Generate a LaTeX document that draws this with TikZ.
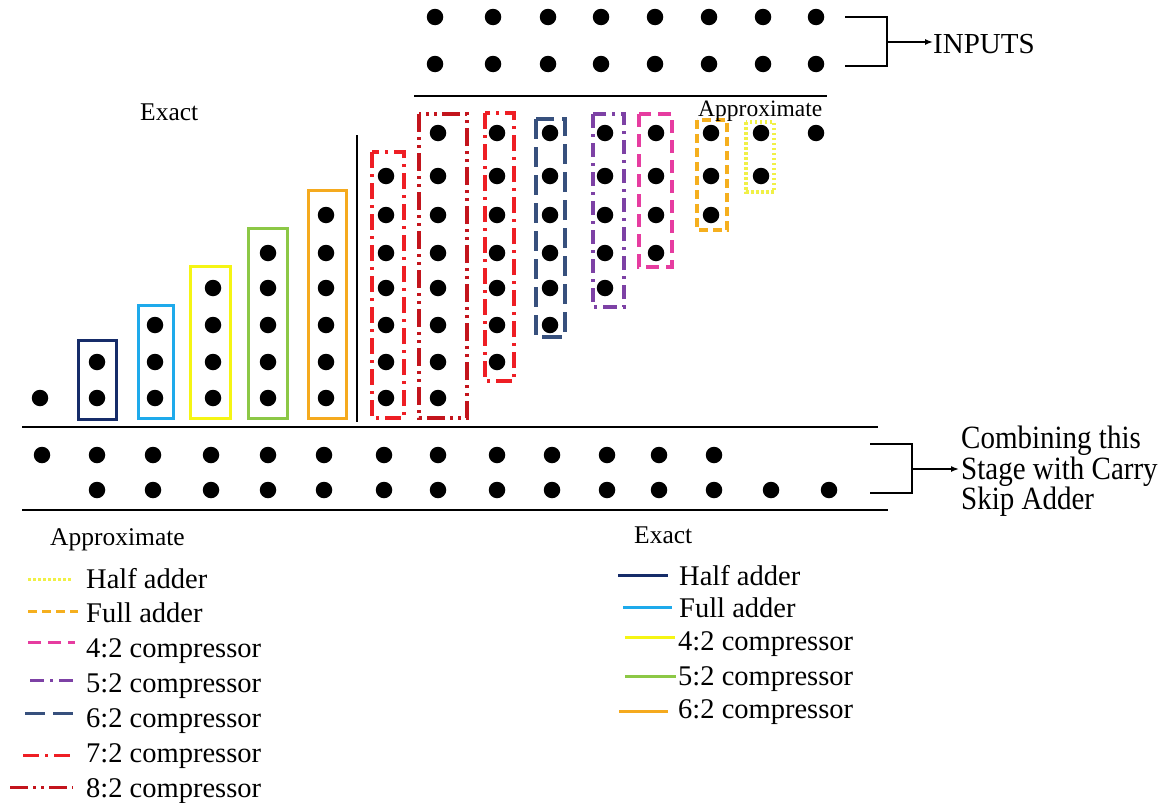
\documentclass[tikz,border=0pt]{standalone}
\usepackage{fontspec}
\setmainfont{Liberation Serif}
\usetikzlibrary{arrows.meta}
\definecolor{exHA}{RGB}{22,44,105}
\definecolor{exFA}{RGB}{30,170,235}
\definecolor{exFT}{RGB}{245,245,20}
\definecolor{exFV}{RGB}{140,200,70}
\definecolor{exSX}{RGB}{245,170,30}
\definecolor{apHA}{RGB}{240,240,70}
\definecolor{apFA}{RGB}{245,175,30}
\definecolor{apFT}{RGB}{230,60,160}
\definecolor{apFV}{RGB}{125,65,165}
\definecolor{apSX}{RGB}{55,80,125}
\definecolor{apSV}{RGB}{238,30,36}
\definecolor{apEG}{RGB}{195,20,28}
\begin{document}
\begin{tikzpicture}[x=1pt,y=-1pt,
  dot/.style={circle,fill=black,inner sep=0pt,minimum size=16.5pt},
  exbox/.style={line width=3pt},
  apbox/.style={line width=3.2pt},
  dashHA/.style={dash pattern=on 2.5pt off 2.5pt},
  dashFA/.style={dash pattern=on 9pt off 5pt},
  dashFT/.style={dash pattern=on 13pt off 7pt},
  dashFV/.style={dash pattern=on 14pt off 6pt on 3pt off 6pt},
  dashSX/.style={dash pattern=on 20pt off 8pt},
  dashSV/.style={dash pattern=on 16pt off 6pt on 3pt off 6pt},
  dashEG/.style={dash pattern=on 18pt off 5pt on 3pt off 5pt on 3pt off 5pt},
  rule/.style={line width=2.5pt},
  brk/.style={line width=1.5pt},
  arr/.style={brk,-{Latex[length=8pt,width=6pt]}},
  big/.style={font=\fontsize{29}{27}\selectfont,inner sep=0pt,anchor=base west},
  leg/.style={font=\fontsize{28.5}{27}\selectfont,inner sep=0pt,anchor=base west},
  head/.style={font=\fontsize{25.5}{27}\selectfont,inner sep=0pt,anchor=base west},
  legline/.style={line width=3pt}]
\useasboundingbox (0,0) rectangle (1162,803);

% input dots
\foreach \x [count=\i] in {435,493,548,601,655,709,763,816} {
  \node[dot] (ia\i) at (\x,17) {};
  \node[dot] (ib\i) at (\x,64) {};
}
% partial products
\def\rowy#1{\ifcase#1\or 398\or 362\or 325\or 288\or 253\or 215\or 176\or 133\fi}
\foreach \x/\lo/\hi [count=\c] in {40/1/1,97/1/2,155/1/3,213/1/4,268/1/5,326/1/6,386/1/7,438/1/8,497/2/8,550/3/8,605/4/8,656/5/8,711/6/8,761/7/8,816/8/8} {
  \foreach \r in {\lo,...,\hi} {
    \node[dot] (p\c-\r) at (\x,\rowy{\r}) {};
  }
}
% output dots
\foreach \x [count=\i] in {42,97,153,211,268,324,384,438,497,552,607,659,714} {
  \node[dot] (oa\i) at (\x,455) {};
}
\foreach \x [count=\i] in {97,153,211,268,324,384,438,497,552,607,659,714,771,829} {
  \node[dot] (ob\i) at (\x,490) {};
}

% exact boxes
\draw[exbox,exHA] (78,340) rectangle (116,419);
\draw[exbox,exFA] (138,305) rectangle (173,418);
\draw[exbox,exFT] (190,266) rectangle (230,418);
\draw[exbox,exFV] (248,228) rectangle (287,418);
\draw[exbox,exSX] (308,190) rectangle (346,418);

% approximate boxes
\draw[apbox,apSV,dashSV] (372,152) rectangle (404,418);
\draw[apbox,apEG,dashEG] (419,114) rectangle (467,418);
\draw[apbox,apSV,dashSV] (485,113) rectangle (514,381);
\draw[apbox,apSX,dashSX] (536,119) rectangle (565,337);
\draw[apbox,apFV,dashFV] (593,114) rectangle (624,307);
\draw[apbox,apFT,dashFT] (639,114) rectangle (672,267);
\draw[apbox,apFA,dashFA] (697,120) rectangle (727,230);
\draw[apbox,apHA,dashHA] (746,122) rectangle (774,192);

% rules
\draw[rule] (414,96) -- (827,96);
\draw[rule] (357,135) -- (357,422);
\draw[rule] (22,427) -- (878,427);
\draw[rule] (22,510) -- (888,510);

% labels
\node[big] (inputs) at (933,53) {INPUTS};
\node[head] (exacttop) at (140,120) {Exact};
\node[head,font=\fontsize{23.5}{27}\selectfont] (approxtop) at (698,116) {Approximate};
\node[inner sep=0pt,anchor=north west,font=\fontsize{29}{24}\selectfont] (comb) at (961,426)
  {\scalebox{1}[1.12]{\begin{tabular}{@{}l@{}}Combining this\\Stage with Carry\\Skip Adder\end{tabular}}};

% brackets
\coordinate (ib) at (887,42);
\draw[brk] (845,17) -- (887,17) -- (887,66) -- (845,66);
\draw[arr] (ib) -- (inputs.west |- ib);
\coordinate (ob) at (912,469);
\draw[brk] (870,444) -- (912,444) -- (912,493) -- (870,493);
\draw[arr] (ob) -- ([xshift=-2pt]comb.west |- ob);

% legend approximate
\node[head] (lgA) at (50,545) {Approximate};
\node[leg] (lA1) at (86,588) {Half adder};
\node[leg] (lA2) at (86,622) {Full adder};
\node[leg] (lA3) at (86,657) {4:2 compressor};
\node[leg] (lA4) at (86,692) {5:2 compressor};
\node[leg] (lA5) at (86,727) {6:2 compressor};
\node[leg] (lA6) at (86,762) {7:2 compressor};
\node[leg] (lA7) at (86,797) {8:2 compressor};
\draw[legline,apHA,dashHA] (28,579) -- (72,579);
\draw[legline,apFA,dashFA] (28,611) -- (78,611);
\draw[legline,apFT,dashFT] (28,642) -- (75,642);
\draw[legline,apFV,dashFV] (30,680) -- (78,680);
\draw[legline,apSX,dashSX] (25,713) -- (73,713);
\draw[legline,apSV,dashSV] (23,755) -- (75,755);
\draw[legline,apEG,dashEG] (10,787) -- (73,787);

% legend exact
\node[head] (lgE) at (634,543) {Exact};
\node[leg] (lE1) at (679,585) {Half adder};
\node[leg] (lE2) at (679,617) {Full adder};
\node[leg] (lE3) at (678,650) {4:2 compressor};
\node[leg] (lE4) at (678,685) {5:2 compressor};
\node[leg] (lE5) at (678,718) {6:2 compressor};
\draw[legline,exHA] (618,575) -- (668,575);
\draw[legline,exFA] (623,607) -- (672,607);
\draw[legline,exFT] (625,637) -- (675,637);
\draw[legline,exFV] (625,676) -- (676,676);
\draw[legline,exSX] (619,711) -- (668,711);
\end{tikzpicture}
\end{document}
